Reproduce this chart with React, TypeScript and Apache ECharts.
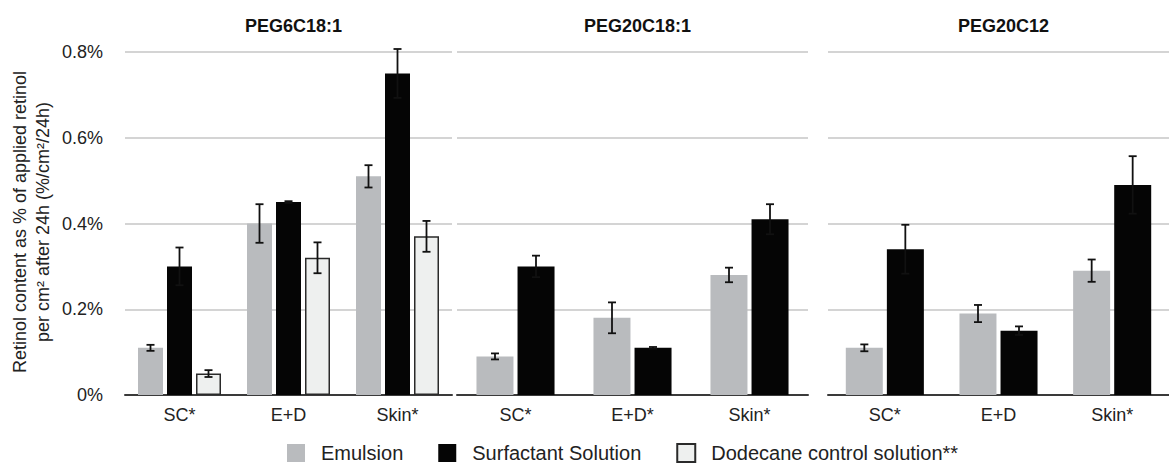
import React, { useEffect, useRef } from "react";
import * as echarts from "echarts";

const panelTitles = ["PEG6C18:1", "PEG20C18:1", "PEG20C12"];
const categories1 = ["SC*", "E+D", "Skin*"];
const categories2 = ["SC*", "E+D*", "Skin*"];
const categories3 = ["SC*", "E+D", "Skin*"];
const yTicks = [0, 0.2, 0.4, 0.6, 0.8];

// Panel 1 (PEG6C18:1)
const emulsion1 = [0.11, 0.4, 0.51];
const emulsionErr1 = [0.007, 0.045, 0.026];
const surfactant1 = [0.3, 0.45, 0.75];
const surfactantErr1 = [0.044, 0.002, 0.057];
const dodecane1 = [0.05, 0.32, 0.37];
const dodecaneErr1 = [0.008, 0.036, 0.036];

// Panel 2 (PEG20C18:1)
const emulsion2 = [0.09, 0.18, 0.28];
const emulsionErr2 = [0.007, 0.036, 0.017];
const surfactant2 = [0.3, 0.11, 0.41];
const surfactantErr2 = [0.025, 0.002, 0.035];

// Panel 3 (PEG20C12)
const emulsion3 = [0.11, 0.19, 0.29];
const emulsionErr3 = [0.008, 0.02, 0.026];
const surfactant3 = [0.34, 0.15, 0.49];
const surfactantErr3 = [0.057, 0.01, 0.067];

const seriesNames = ["Emulsion", "Surfactant Solution", "Dodecane control solution**"];

const FONT = "'Liberation Sans', Arial, Helvetica, sans-serif";
const GRAY = "#b9bbbe";
const BLACK = "#050505";
const WHITE = "#eef0ef";

export default function App() {
  const ref = useRef<HTMLDivElement>(null);

  useEffect(() => {
    if (!ref.current) return;
    const chart = echarts.init(ref.current, null, { renderer: "svg" });

    const grids = [
      { left: 125, width: 327, top: 52, height: 343 },
      { left: 457, width: 351, top: 52, height: 343 },
      { left: 828, width: 341, top: 52, height: 343 },
    ];
    const cats = [categories1, categories2, categories3];

    const xAxes = grids.map((_, i) => ({
      type: "category",
      gridIndex: i,
      data: cats[i],
      axisLine: { show: true, lineStyle: { color: "#3a3a3a", width: 2 } },
      axisTick: { show: false },
      axisLabel: { fontSize: 18, color: "#222", fontFamily: FONT, margin: 11 },
    }));

    const yAxes = grids.map((_, i) => ({
      type: "value",
      gridIndex: i,
      min: yTicks[0],
      max: yTicks[yTicks.length - 1],
      interval: 0.2,
      axisLine: { show: false },
      axisTick: { show: false },
      splitLine: { show: true, lineStyle: { color: "#c6c6c6", width: 1.5 } },
      axisLabel: {
        show: i === 0,
        fontSize: 18,
        color: "#222",
        fontFamily: FONT,
        margin: 22,
        formatter: (v: number) => (v === 0 ? "0%" : v.toFixed(1) + "%"),
      },
    }));

    const barSeries = (name: string, data: number[], gi: number, bw: number, gap: string, color: string, border?: boolean) => ({
      type: "bar",
      name,
      xAxisIndex: gi,
      yAxisIndex: gi,
      data,
      barWidth: bw,
      barGap: gap,
      itemStyle: border
        ? { color, borderColor: "#2a2a2a", borderWidth: 1.5 }
        : { color },
      z: 2,
    });

    const errSeries = (vals: number[], errs: number[], gi: number, offset: number) => ({
      type: "custom",
      name: "err",
      xAxisIndex: gi,
      yAxisIndex: gi,
      z: 5,
      silent: true,
      data: vals.map((v, k) => [k, v - errs[k], v + errs[k]]),
      encode: { x: 0, y: [1, 2] },
      renderItem: (params: any, api: any) => {
        const c = api.value(0);
        const lo = api.coord([c, api.value(1)]);
        const hi = api.coord([c, api.value(2)]);
        const x = lo[0] + offset;
        const cap = 4;
        const style = { stroke: "#111", lineWidth: 1.8 };
        return {
          type: "group",
          children: [
            { type: "line", shape: { x1: x, y1: hi[1], x2: x, y2: lo[1] }, style },
            { type: "line", shape: { x1: x - cap, y1: hi[1], x2: x + cap, y2: hi[1] }, style },
            { type: "line", shape: { x1: x - cap, y1: lo[1], x2: x + cap, y2: lo[1] }, style },
          ],
        };
      },
    });

    const series: any[] = [
      barSeries(seriesNames[0], emulsion1, 0, 25, "16%", GRAY),
      barSeries(seriesNames[1], surfactant1, 0, 25, "16%", BLACK),
      barSeries(seriesNames[2], dodecane1, 0, 25, "16%", WHITE, true),
      errSeries(emulsion1, emulsionErr1, 0, -29),
      errSeries(surfactant1, surfactantErr1, 0, 0),
      errSeries(dodecane1, dodecaneErr1, 0, 29),

      barSeries(seriesNames[0], emulsion2, 1, 37, "11%", GRAY),
      barSeries(seriesNames[1], surfactant2, 1, 37, "11%", BLACK),
      errSeries(emulsion2, emulsionErr2, 1, -20.5),
      errSeries(surfactant2, surfactantErr2, 1, 20.5),

      barSeries(seriesNames[0], emulsion3, 2, 37, "11%", GRAY),
      barSeries(seriesNames[1], surfactant3, 2, 37, "11%", BLACK),
      errSeries(emulsion3, emulsionErr3, 2, -20.5),
      errSeries(surfactant3, surfactantErr3, 2, 20.5),
    ];

    chart.setOption({
      animation: false,
      backgroundColor: "#ffffff",
      textStyle: { fontFamily: FONT },
      title: grids.map((g, i) => ({
        text: panelTitles[i],
        left: g.left + g.width / 2,
        top: 12,
        textAlign: "center",
        textStyle: { fontSize: 18, fontWeight: "bold", color: "#111", fontFamily: FONT },
      })),
      grid: grids,
      xAxis: xAxes,
      yAxis: yAxes,
      legend: {
        data: seriesNames,
        left: 287,
        top: 443,
        padding: 0,
        icon: "rect",
        itemWidth: 18,
        itemHeight: 18,
        itemGap: 35,
        selectedMode: false,
        textStyle: { fontSize: 20, color: "#222", fontFamily: FONT, padding: [0, 0, 0, 11] },
      },
      graphic: [
        {
          type: "text",
          x: 31,
          y: 222,
          rotation: Math.PI / 2,
          style: {
            text: "Retinol content as % of applied retinol\nper cm² after 24h (%/cm²/24h)",
            fontSize: 18,
            lineHeight: 23,
            fill: "#222",
            fontFamily: FONT,
            align: "center",
            verticalAlign: "middle",
          },
        },
      ],
      series,
    });

    return () => chart.dispose();
  }, []);

  return (
    <div
      ref={ref}
      style={{ position: "fixed", left: 0, top: 0, width: 1169, height: 466, background: "#fff" }}
    />
  );
}
